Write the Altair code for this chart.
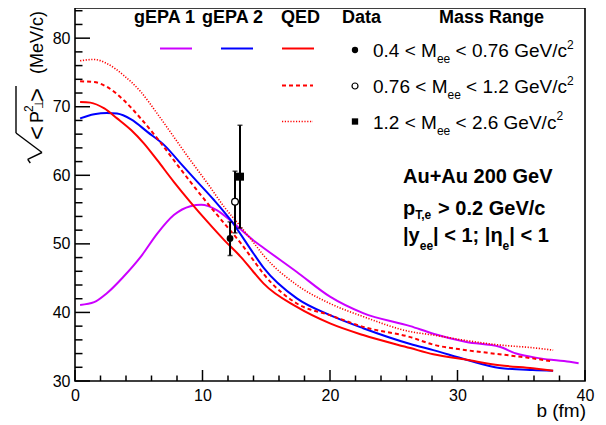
import altair as alt
import pandas as pd

FONT = "Liberation Sans"

# ---------------- data ----------------
gepa1_b = [0.4, 1.5, 2.5, 3.8, 5.15, 6.45, 7.75, 9.05, 9.9, 11.15, 12.45, 14.0, 14.8, 17.4, 20.0, 22.6, 26.3, 28.1, 30.7, 33.3, 34.6, 36.5, 38.8, 39.5]
gepa1_v = [41.1, 41.5, 42.8, 45.2, 48.1, 51.5, 54.2, 55.5, 55.7, 54.9, 53.0, 50.5, 49.4, 45.9, 42.3, 39.9, 38.0, 36.9, 35.7, 35.0, 34.0, 33.3, 32.8, 32.6]

gepa2_b = [0.4, 1.5, 2.5, 3.3, 4.4, 5.7, 7.0, 8.3, 9.6, 10.9, 12.2, 14.0, 14.8, 17.4, 20.0, 22.6, 26.3, 28.1, 30.7, 33.3, 35.9, 37.5]
gepa2_v = [68.3, 68.9, 69.1, 69.0, 68.15, 66.3, 64.4, 61.7, 59.05, 56.4, 53.5, 48.6, 46.5, 42.05, 39.6, 37.7, 35.4, 34.5, 33.1, 31.9, 31.6, 31.5]

qed1_b = [0.4, 1.2, 2.3, 3.3, 4.4, 5.4, 6.45, 7.75, 9.05, 10.4, 11.7, 13.0, 14.0, 14.8, 17.4, 20.0, 22.6, 26.3, 28.1, 30.7, 33.3, 35.9, 37.5]
qed1_v = [70.7, 70.6, 69.75, 68.3, 66.6, 64.65, 62.2, 59.05, 56.1, 53.2, 50.55, 48.1, 45.9, 44.2, 40.8, 38.4, 36.7, 34.8, 33.9, 33.1, 32.3, 31.85, 31.5]

qed2_b = [0.4, 1.5, 2.5, 3.8, 5.15, 6.45, 7.75, 9.05, 10.4, 11.7, 13.0, 14.0, 14.8, 17.4, 20.0, 22.6, 26.3, 28.1, 30.7, 33.3, 35.9, 37.3]
qed2_v = [73.7, 73.6, 72.9, 71.0, 68.3, 65.4, 62.2, 59.05, 55.9, 53.0, 50.1, 47.6, 45.6, 41.3, 39.6, 37.9, 36.4, 35.3, 34.5, 33.9, 33.3, 32.9]

qed3_b = [0.4, 1.5, 2.5, 3.8, 5.15, 6.45, 7.75, 9.05, 10.4, 11.7, 13.0, 14.0, 14.8, 17.4, 20.0, 22.6, 26.3, 28.1, 30.7, 33.3, 35.9, 37.5]
qed3_v = [76.7, 76.9, 76.3, 74.6, 72.2, 69.0, 65.6, 62.2, 58.8, 55.4, 52.5, 50.2, 48.3, 44.0, 41.3, 39.4, 37.2, 36.7, 35.9, 35.25, 34.85, 34.5]

data_b = [12.16, 12.55, 12.94]
data_v = [50.8, 56.15, 59.8]
data_lo = [48.3, 51.6, 52.3]
data_hi = [53.2, 60.6, 67.3]
data_shape = ["filled", "open", "square"]

x_labels = [0, 10, 20, 30, 40]
y_labels = [30, 40, 50, 60, 70, 80]
x_major = [0, 10, 20, 30, 40]
x_minor = [v for v in range(2, 40, 2) if v % 10 != 0]
y_major = [30, 40, 50, 60, 70, 80]
y_minor = [v for v in range(32, 85, 2) if v % 10 != 0]

mass_low = ["0.4", "0.76", "1.2"]
mass_high = ["0.76", "1.2", "2.6"]

# ---------------- scales / axes ----------------
xs = alt.Scale(domain=[0, 40], nice=False, zero=False)
ys = alt.Scale(domain=[30, 84.4], nice=False, zero=False)
xaxis = alt.Axis(values=x_labels, labelFont=FONT, labelFontSize=16, labelColor="black",
                 labelPadding=6, labelFlush=False, ticks=False, tickSize=0, domain=False,
                 grid=False)
yaxis = alt.Axis(values=y_labels, labelFont=FONT, labelFontSize=16, labelColor="black",
                 labelPadding=5, ticks=False, tickSize=0, domain=False, grid=False)


def X(f):
    return alt.X(f, type="quantitative", scale=xs, axis=xaxis, title=None)


def Y(f):
    return alt.Y(f, type="quantitative", scale=ys, axis=yaxis, title=None)


one = alt.Data(values=[{"k": 0}])
layers = []


def curve(bs, vs, color, dash=None, width=2.0):
    kw = dict(color=color, strokeWidth=width, interpolate="monotone")
    if dash:
        kw["strokeDash"] = dash
    return alt.Chart(pd.DataFrame({"b": bs, "v": vs})).mark_line(**kw).encode(x=X("b"), y=Y("v"))


MAG = "#cc00ff"
BLUE = "#0000ff"
RED = "#ff0000"
DASH = [4, 3]
DOT = [1.2, 1.6]

layers.append(curve(gepa1_b, gepa1_v, MAG))
layers.append(curve(gepa2_b, gepa2_v, BLUE))
layers.append(curve(qed1_b, qed1_v, RED))
layers.append(curve(qed2_b, qed2_v, RED, DASH))
layers.append(curve(qed3_b, qed3_v, RED, DOT, 1.6))


# axis ticks (inward, ROOT style)
def xticks(vals, length):
    return alt.Chart(pd.DataFrame({"t": vals})).mark_rule(color="black", strokeWidth=1.5).encode(
        x=X("t"), y=alt.value(373), y2=alt.value(373 - length))


def yticks(vals, length):
    return alt.Chart(pd.DataFrame({"t": vals})).mark_rule(color="black", strokeWidth=1.5).encode(
        y=Y("t"), x=alt.value(0), x2=alt.value(length))


layers += [xticks(x_major, 11), xticks(x_minor, 5.5), yticks(y_major, 15), yticks(y_minor, 7.5)]

# data points with error bars
pts = pd.DataFrame({"b": data_b, "v": data_v, "lo": data_lo, "hi": data_hi, "s": data_shape})
layers.append(alt.Chart(pts).mark_rule(color="black", strokeWidth=2).encode(
    x=X("b"), y=Y("lo"), y2=alt.Y2("hi")))
layers.append(alt.Chart(pts).mark_tick(color="black", orient="horizontal", size=5, thickness=1.5).encode(
    x=X("b"), y=Y("lo")))
layers.append(alt.Chart(pts).mark_tick(color="black", orient="horizontal", size=5, thickness=1.5).encode(
    x=X("b"), y=Y("hi")))
layers.append(alt.Chart(pts).transform_filter(alt.datum.s == "filled").mark_point(
    shape="circle", filled=True, color="black", size=45, opacity=1).encode(x=X("b"), y=Y("v")))
layers.append(alt.Chart(pts).transform_filter(alt.datum.s == "open").mark_point(
    shape="circle", filled=True, fill="white", stroke="black", strokeWidth=1.3, size=45, opacity=1).encode(
    x=X("b"), y=Y("v")))
layers.append(alt.Chart(pts).transform_filter(alt.datum.s == "square").mark_point(
    shape="square", filled=True, color="black", size=64, opacity=1).encode(x=X("b"), y=Y("v")))

# ---------------- text helpers ----------------
W_REG = {" ": .278, ".": .278, "<": .584, ">": .584, "M": .833, "e": .556, "G": .778, "V": .667,
         "/": .278, "c": .5, "T": .611, ",": .278, "|": .26, "y": .5, "p": .556, ";": .278}
W_BOLD = {" ": .278, ".": .278, "<": .584, ">": .584, "M": .833, "e": .556, "G": .778, "V": .667,
          "/": .278, "c": .556, "T": .611, ",": .278, "|": .28, "y": .556, "p": .611, ";": .333,
          "A": .722, "u": .611, "+": .584, "\u03b7": .611}


def tw(s, size, bold=False):
    t = W_BOLD if bold else W_REG
    return sum(t.get(ch, .556) for ch in s) * size


def txt(s, x, y, size, bold=False, align="left", angle=0, font=FONT):
    kw = dict(align=align, baseline="alphabetic", fontSize=size, font=font, color="black")
    if bold:
        kw["fontWeight"] = "bold"
    if angle:
        kw["angle"] = angle
    return alt.Chart(one).mark_text(**kw).encode(x=alt.value(x), y=alt.value(y), text=alt.value(s))


def flow(pieces, x, y, bold=False):
    """pieces: (text, size, baseline shift); leading spaces become an x advance."""
    out = []
    for s, size, dy in pieces:
        body = s.lstrip(" ")
        x += tw(s[: len(s) - len(body)], size, bold)
        out.append(txt(body, x, y + dy, size, bold=bold))
        x += tw(body, size, bold)
    return out


def seg(x1, x2, y, color, dash=None, width=2.0):
    kw = dict(color=color, strokeWidth=width)
    if dash:
        kw["strokeDash"] = dash
    return alt.Chart(one).mark_rule(**kw).encode(x=alt.value(x1), x2=alt.value(x2), y=alt.value(y))


def line(x1, y1, x2, y2, width=1.4):
    return alt.Chart(one).mark_rule(color="black", strokeWidth=width).encode(
        x=alt.value(x1), y=alt.value(y1), x2=alt.value(x2), y2=alt.value(y2))


def marker(x, y, shape, filled=True, size=40):
    kw = dict(shape=shape, size=size, opacity=1, filled=True)
    if filled:
        kw["color"] = "black"
    else:
        kw["fill"] = "white"
        kw["stroke"] = "black"
        kw["strokeWidth"] = 1.2
    return alt.Chart(one).mark_point(**kw).encode(x=alt.value(x), y=alt.value(y))


# ---------------- legend ----------------
for s, x in [("gEPA 1", 59), ("gEPA 2", 127), ("QED", 206), ("Data", 267), ("Mass Range", 364)]:
    layers.append(txt(s, x, 15, 18, bold=True))

layers.append(seg(85, 117, 40.5, MAG))
layers.append(seg(146, 178, 40.5, BLUE))
layers.append(seg(207, 239, 40.5, RED))
layers.append(seg(207, 238, 77.5, RED, DASH))
layers.append(seg(207, 238, 113.5, RED, DOT, 1.6))
layers.append(marker(280, 42, "circle", True, 40))
layers.append(marker(280, 78, "circle", False, 36))
layers.append(marker(280, 113.5, "square", True, 40))

for yb, lo, hi in zip([49, 85, 120.5], mass_low, mass_high):
    layers += flow([(f"{lo} < M", 19, 0), ("ee", 12, 6), (f" < {hi} GeV/c", 19, 0), ("2", 12, -8.5)],
                   298, yb)

# ---------------- conditions ----------------
layers.append(txt("Au+Au 200 GeV", 328, 175, 20, bold=True))
layers += flow([("p", 20, 0), ("T,e", 12, 4), (" > 0.2 GeV/c", 20, 0)], 328, 207, bold=True)
layers += flow([("|y", 20, 0), ("ee", 12, 8), ("| < 1; |\u03b7", 20, 0), ("e", 12, 8), ("| < 1", 20, 0)],
               328, 234, bold=True)

# ---------------- axis titles ----------------
layers.append(txt("b (fm)", 511, 409, 19, align="right"))
DJ = "DejaVu Sans"
layers.append(txt("(MeV/c)", -32, 66, 18, angle=270))
layers.append(txt(">", -30, 94, 24, angle=270))
layers.append(txt("\u22a5", -32, 101, 12, angle=270, font=DJ))
layers.append(txt("2", -42, 104, 12, angle=270))
layers.append(txt("P", -32, 115, 18, angle=270))
layers.append(txt("<", -30, 132, 24, angle=270))
# radical sign drawn as strokes (rotated)
layers.append(line(-44.7, 155, -47.3, 151.4))
layers.append(line(-47.3, 151.4, -33, 144.5))
layers.append(line(-33, 144.5, -59, 125))
layers.append(line(-59, 125, -59, 78))

chart = alt.layer(*layers).properties(
    width=510,
    height=373,
    autosize=alt.AutoSizeParams(type="none"),
    padding={"left": 67, "top": 0, "right": 13, "bottom": 40},
    background="white",
).configure_view(stroke="black", strokeWidth=1.6)

chart.save("out.html", embed_options={"renderer": "svg", "actions": False})
